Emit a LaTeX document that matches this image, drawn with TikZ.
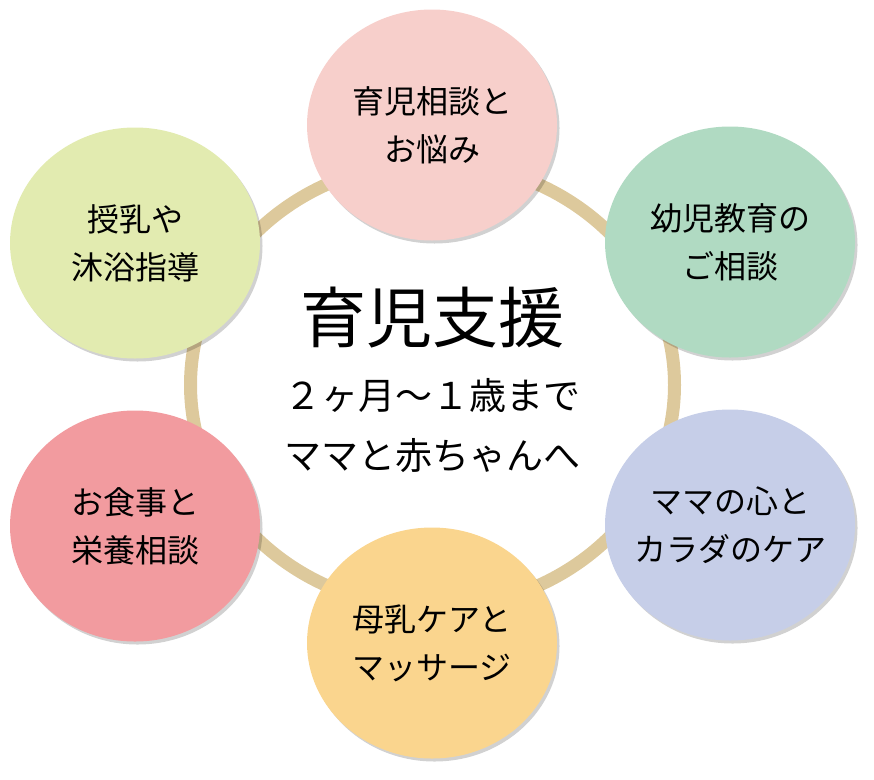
\documentclass[tikz,border=0pt]{standalone}
\usepackage{xcolor}
\usepackage{fontspec}
\setmainfont{Noto Sans CJK JP}
\usepackage{tikz}
\usetikzlibrary{shadows,shapes,positioning}
\tikzset{every shadow/.style={}}

\definecolor{ringtan}{HTML}{DDC99C}
\definecolor{advicepink}{HTML}{F7CFCB}
\definecolor{infantgreen}{HTML}{B0DAC2}
\definecolor{mamablue}{HTML}{C6CEE8}
\definecolor{milkorange}{HTML}{FAD58E}
\definecolor{foodred}{HTML}{F29B9F}
\definecolor{bathlime}{HTML}{E2EBB0}

\tikzset{
  topic/.style={ellipse, minimum width=250pt, minimum height=231pt, inner sep=0pt,
    drop shadow={shadow xshift=2.5pt, shadow yshift=-3pt, opacity=.18, fill=black},
    label={[inner sep=0pt, align=center, font=\fontsize{32}{48}\selectfont]center:{#1}}},
  centre/.style={inner sep=0pt, align=center}
}

\begin{document}
\begin{tikzpicture}[x=1pt, y=-1pt]
        \useasboundingbox (0,0) rectangle (874,779);
        % ring behind the topics
        \node[draw=ringtan, line width=13pt, ellipse, minimum width=484pt, minimum height=446pt] (ring) at (432.5,385) {};
        
        \node[centre, font=\fontsize{66}{66}\selectfont] (title) at (432,318) {育児支援};
        \node[centre, font=\fontsize{37}{37}\selectfont] (age) at (432,395) {２ヶ月～１歳まで};
        \node[centre, font=\fontsize{37}{37}\selectfont] (target) at (432,456) {ママと赤ちゃんへ};
        
        \node[topic={育児相談と\\お悩み}, fill=advicepink] (advice) at (432,125) {};
        \node[topic={幼児教育の\\ご相談}, fill=infantgreen] (infant) at (730,242) {};
        \node[topic={ママの心と\\カラダのケア}, fill=mamablue] (mama) at (730,525) {};
        \node[topic={母乳ケアと\\マッサージ}, fill=milkorange] (milk) at (432,643) {};
        \node[topic={お食事と\\栄養相談}, fill=foodred] (food) at (135,526) {};
        \node[topic={授乳や\\沐浴指導}, fill=bathlime] (bath) at (135,243) {};
    \end{tikzpicture}
\end{document}
